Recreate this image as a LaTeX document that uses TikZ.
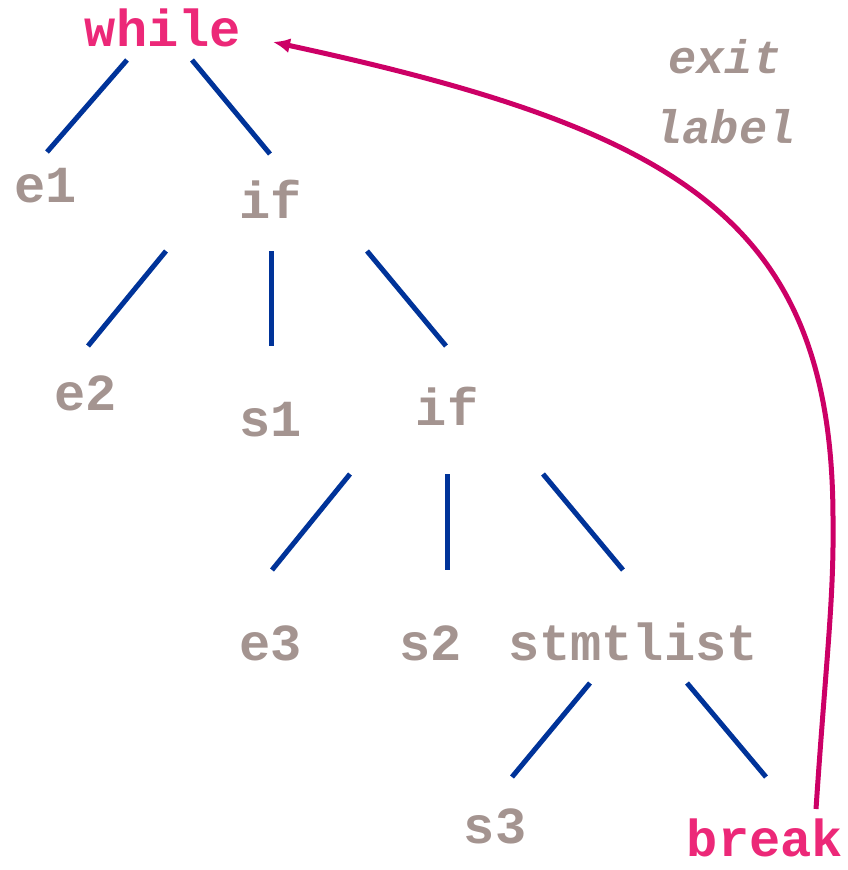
\documentclass[tikz,border=0pt]{standalone}
\usepackage{fontspec}
\setmonofont{Liberation Mono}
\usetikzlibrary{arrows.meta}
\definecolor{kw}{RGB}{236,40,120}
\definecolor{gr}{RGB}{164,148,144}
\definecolor{bl}{RGB}{0,51,153}
\definecolor{ar}{RGB}{204,0,102}
\tikzset{
  lbl/.style={anchor=base, inner sep=0pt, font=\fontsize{52}{58}\selectfont\ttfamily\bfseries, text=gr},
  kwl/.style={lbl, text=kw},
  itl/.style={lbl, font=\fontsize{47}{52}\selectfont\ttfamily\bfseries\itshape},
  edge/.style={draw=bl, line width=5pt},
  jump/.style={draw=ar, line width=5pt, -{Latex[length=17pt,width=15pt]}}
}
\begin{document}
\begin{tikzpicture}[x=1pt,y=-1pt]
\useasboundingbox (0,0) rectangle (848,870);
\node[kwl] (while) at (163,46) {while};
\node[lbl] (e1) at (46,202) {e1};
\node[lbl] (if1) at (271,218) {if};
\node[lbl] (e2) at (86,410) {e2};
\node[lbl] (s1) at (271,436) {s1};
\node[lbl] (if2) at (447,425) {if};
\node[lbl] (e3) at (271,660) {e3};
\node[lbl] (s2) at (431,660) {s2};
\node[lbl] (stl) at (633,660) {stmtlist};
\node[lbl] (s3) at (495,843) {s3};
\node[kwl, text depth=0pt] (brk) at (765,856) {break};
\node[itl] (exit) at (725,73) {exit};
\node[itl] (label) at (725,143) {label};
% edge end points
\coordinate (a1) at (127,60);  \coordinate (a2) at (47,152);
\coordinate (b1) at (192,60);  \coordinate (b2) at (270,154);
\coordinate (c1) at (166,251); \coordinate (c2) at (88,346);
\coordinate (d1) at (271,251); \coordinate (d2) at (271,346);
\coordinate (f1) at (367,251); \coordinate (f2) at (446,346);
\coordinate (g1) at (350,474); \coordinate (g2) at (272,570);
\coordinate (h1) at (447,474); \coordinate (h2) at (447,570);
\coordinate (i1) at (543,474); \coordinate (i2) at (623,570);
\coordinate (j1) at (590,683); \coordinate (j2) at (512,777);
\coordinate (k1) at (687,683); \coordinate (k2) at (766,777);
\draw[edge] (a1) -- (a2);
\draw[edge] (b1) -- (b2);
\draw[edge] (c1) -- (c2);
\draw[edge] (d1) -- (d2);
\draw[edge] (f1) -- (f2);
\draw[edge] (g1) -- (g2);
\draw[edge] (h1) -- (h2);
\draw[edge] (i1) -- (i2);
\draw[edge] (j1) -- (j2);
\draw[edge] (k1) -- (k2);
% jump arrow
\coordinate (js) at (816,809);
\coordinate (jm) at (833,520);
\coordinate (je) at (273,42);
\draw[jump] (js) .. controls (826,660) and (834,600) .. (jm)
  .. controls (833,220) and (680,130) .. (je);
\end{tikzpicture}
\end{document}
